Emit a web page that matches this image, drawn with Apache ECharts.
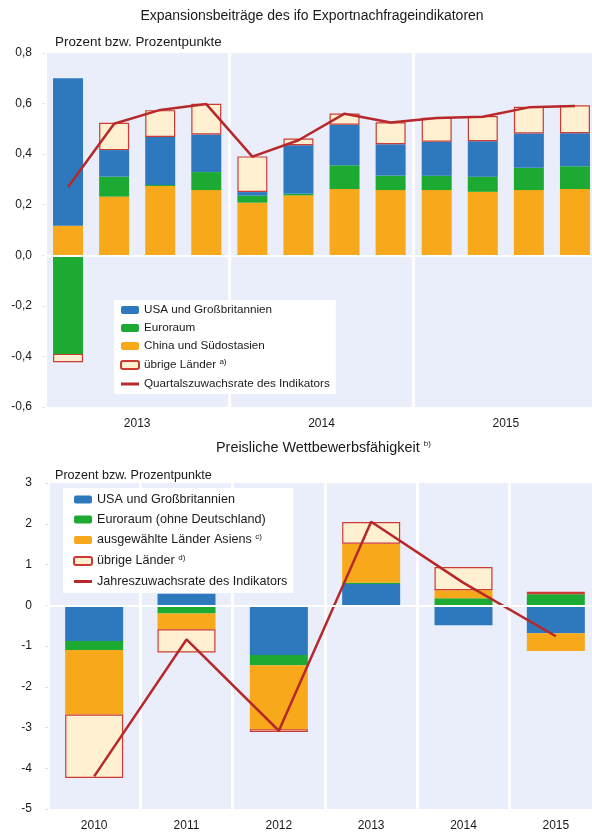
<!DOCTYPE html>
<html>
<head>
<meta charset="utf-8">
<script src="https://cdn.jsdelivr.net/npm/echarts@6/dist/echarts.min.js"></script>
<style>
  html, body { margin: 0; padding: 0; background: #fff; overflow: hidden; }
  #chart { width: 610px; height: 832px; }
</style>
</head>
<body>
<div id="chart"></div>
<script>
// --- oberes Diagramm: Quartale 2013-2015 ---
const quarters = ['2013 Q1', '2013 Q2', '2013 Q3', '2013 Q4', '2014 Q1', '2014 Q2', '2014 Q3', '2014 Q4', '2015 Q1', '2015 Q2', '2015 Q3', '2015 Q4'];
const yearsTop = ['2013', '2014', '2015'];
const chinaTop = [0.117, 0.232, 0.274, 0.258, 0.208, 0.237, 0.262, 0.258, 0.258, 0.251, 0.258, 0.262];
const euroTop = [-0.39, 0.079, 0.004, 0.071, 0.028, 0.006, 0.094, 0.057, 0.057, 0.06, 0.088, 0.09];
const usaTop = [0.583, 0.105, 0.19, 0.149, 0.014, 0.192, 0.16, 0.124, 0.134, 0.14, 0.136, 0.131];
const otherTop = [-0.033, 0.108, 0.106, 0.121, 0.141, 0.027, 0.045, 0.087, 0.095, 0.10, 0.105, 0.11];
const rateTop = [0.27, 0.52, 0.575, 0.598, 0.39, 0.455, 0.56, 0.525, 0.543, 0.548, 0.585, 0.59];

// --- unteres Diagramm: Jahre 2010-2015 ---
const yearsBottom = ['2010', '2011', '2012', '2013', '2014', '2015'];
const usaBottom = [-0.88, 0.28, -1.22, 0.52, -0.49, -0.69];
const euroBottom = [-0.22, -0.2, -0.25, 0.03, 0.17, 0.27];
const asiaBottom = [-1.58, -0.39, -1.57, 0.96, 0.20, -0.43];
const otherBottom = [-1.56, -0.57, -0.07, 0.53, 0.57, 0.06];
const rateBottom = [-4.2, -0.84, -3.08, 2.05, 0.55, -0.76];

const FONT = 'Liberation Sans, Arial, sans-serif';
const TXT = '#1a1a1a';
const BLUE = '#2E78BE', GREEN = '#1DAA33', ORANGE = '#F7A81B';
const CREAM = '#FEF0D0', RED_BORDER = '#CC3B33', LINE = '#B7282A';
const BG = '#E9EEFA';

const otherStyle = { color: CREAM, borderColor: RED_BORDER, borderWidth: 1.2 };
const linePath = 'path://M0 0H18V3H0Z';

// hochgestellte Fussnoten in der Legende
const supMap = {
  'übrige Länder a)': ['übrige Länder ', 'a)'],
  'ausgewählte Länder Asiens c)': ['ausgewählte Länder Asiens ', 'c)'],
  'übrige Länder d)': ['übrige Länder ', 'd)']
};
function legendFmt(name) {
  const s = supMap[name];
  return s ? '{t|' + s[0] + '}{s|' + s[1] + '}' : '{t|' + name + '}';
}
function legendRich(size) {
  return {
    t: { fontSize: size, fontFamily: FONT, color: TXT, lineHeight: 14 },
    s: { fontSize: 8, fontFamily: FONT, color: TXT, lineHeight: 14, padding: [0, 0, 6, 0] }
  };
}

const chart = echarts.init(document.getElementById('chart'), null, { renderer: 'canvas' });

chart.setOption({
  animation: false,
  textStyle: { fontFamily: FONT },
  graphic: [
    { type: 'text', x: 312, y: 16, style: { text: 'Expansionsbeiträge des ifo Exportnachfrageindikatoren', font: '14px ' + FONT, fill: TXT, align: 'center', verticalAlign: 'middle' } },
    { type: 'text', x: 55, y: 42, style: { text: 'Prozent bzw. Prozentpunkte', font: '13.4px ' + FONT, fill: TXT, align: 'left', verticalAlign: 'middle' } },
    { type: 'text', x: 216, y: 448, style: {
      text: '{t|Preisliche Wettbewerbsfähigkeit }{s|b)}',
      rich: {
        t: { fontSize: 14.4, fontFamily: FONT, fill: TXT, lineHeight: 16 },
        s: { fontSize: 8, fontFamily: FONT, fill: TXT, lineHeight: 16, padding: [0, 0, 8, 0] }
      },
      align: 'left', verticalAlign: 'middle' } },
    { type: 'text', x: 55, y: 476, style: { text: 'Prozent bzw. Prozentpunkte', font: '12.6px ' + FONT, fill: TXT, align: 'left', verticalAlign: 'middle' } }
  ],
  grid: [
    { left: 45, top: 53, width: 553, height: 354, show: true, backgroundColor: BG, borderWidth: 0 },
    { left: 48, top: 483, width: 554, height: 328, show: true, backgroundColor: BG, borderWidth: 0 }
  ],
  legend: [
    {
      orient: 'vertical', left: 114, top: 300, backgroundColor: '#fff',
      padding: [4, 6, 4, 6], itemGap: 6, itemWidth: 18, itemHeight: 8,
      data: [
        { name: 'USA und Großbritannien' },
        { name: 'Euroraum' },
        { name: 'China und Südostasien' },
        { name: 'übrige Länder a)' },
        { name: 'Quartalszuwachsrate des Indikators', icon: linePath }
      ],
      formatter: legendFmt,
      textStyle: { rich: legendRich(11.7) }
    },
    {
      orient: 'vertical', left: 63, top: 488, backgroundColor: '#fff',
      padding: [5, 6, 5, 10], itemGap: 7, itemWidth: 18, itemHeight: 8,
      data: [
        { name: 'USA und Großbritannien' },
        { name: 'Euroraum (ohne Deutschland)' },
        { name: 'ausgewählte Länder Asiens c)' },
        { name: 'übrige Länder d)' },
        { name: 'Jahreszuwachsrate des Indikators', icon: linePath }
      ],
      formatter: legendFmt,
      textStyle: { rich: legendRich(12.6) }
    }
  ],
  xAxis: [
    // Quartale, nur fuer die weisse Nulllinie
    { type: 'category', gridIndex: 0, data: quarters, z: 10,
      axisLine: { onZero: true, lineStyle: { color: '#fff', width: 2 } },
      axisTick: { show: false }, axisLabel: { show: false }, splitLine: { show: false } },
    // Jahre: Beschriftung und Trennlinien
    { type: 'category', gridIndex: 0, data: yearsTop, position: 'bottom',
      axisLine: { show: false, onZero: false }, axisTick: { show: false },
      axisLabel: { fontSize: 12, color: TXT, margin: 11 },
      splitLine: { show: true, lineStyle: { color: '#fff', width: 3 } } },
    { type: 'category', gridIndex: 1, data: yearsBottom, position: 'bottom',
      axisLine: { show: false, onZero: false }, axisTick: { show: false },
      axisLabel: { fontSize: 12, color: TXT, margin: 11 },
      splitLine: { show: true, lineStyle: { color: '#fff', width: 3 } } },
    { type: 'category', gridIndex: 1, data: yearsBottom, z: 10,
      axisLine: { onZero: true, lineStyle: { color: '#fff', width: 2 } },
      axisTick: { show: false }, axisLabel: { show: false }, splitLine: { show: false } }
  ],
  yAxis: [
    { type: 'value', gridIndex: 0, min: -0.6, max: 0.8, interval: 0.2,
      axisLine: { show: false }, axisTick: { show: true, length: 3, lineStyle: { color: '#dde2ee' } },
      splitLine: { show: false },
      axisLabel: { fontSize: 12, color: TXT, margin: 13, formatter: v => v.toFixed(1).replace('.', ',') } },
    { type: 'value', gridIndex: 1, min: -5, max: 3, interval: 1,
      axisLine: { show: false }, axisTick: { show: true, length: 3, lineStyle: { color: '#dde2ee' } },
      splitLine: { show: false },
      axisLabel: { fontSize: 12, color: TXT, margin: 16, formatter: v => String(Math.round(v)) } }
  ],
  series: [
    { name: 'China und Südostasien', type: 'bar', stack: 'top', xAxisIndex: 0, yAxisIndex: 0, barWidth: 30, itemStyle: { color: ORANGE }, data: chinaTop },
    { name: 'Euroraum', type: 'bar', stack: 'top', xAxisIndex: 0, yAxisIndex: 0, barWidth: 30, itemStyle: { color: GREEN }, data: euroTop },
    { name: 'USA und Großbritannien', type: 'bar', stack: 'top', xAxisIndex: 0, yAxisIndex: 0, barWidth: 30, itemStyle: { color: BLUE }, data: usaTop },
    { name: 'übrige Länder a)', type: 'bar', stack: 'top', xAxisIndex: 0, yAxisIndex: 0, barWidth: 30, itemStyle: otherStyle, data: otherTop },
    { name: 'Quartalszuwachsrate des Indikators', type: 'line', xAxisIndex: 0, yAxisIndex: 0, color: LINE, symbol: 'none', lineStyle: { color: LINE, width: 2.5 }, z: 5, data: rateTop },

    { name: 'USA und Großbritannien', type: 'bar', stack: 'bottom', xAxisIndex: 2, yAxisIndex: 1, barWidth: 58, itemStyle: { color: BLUE }, data: usaBottom },
    { name: 'Euroraum (ohne Deutschland)', type: 'bar', stack: 'bottom', xAxisIndex: 2, yAxisIndex: 1, barWidth: 58, itemStyle: { color: GREEN }, data: euroBottom },
    { name: 'ausgewählte Länder Asiens c)', type: 'bar', stack: 'bottom', xAxisIndex: 2, yAxisIndex: 1, barWidth: 58, itemStyle: { color: ORANGE }, data: asiaBottom },
    { name: 'übrige Länder d)', type: 'bar', stack: 'bottom', xAxisIndex: 2, yAxisIndex: 1, barWidth: 58, itemStyle: otherStyle, data: otherBottom },
    { name: 'Jahreszuwachsrate des Indikators', type: 'line', xAxisIndex: 2, yAxisIndex: 1, color: LINE, symbol: 'none', lineStyle: { color: LINE, width: 2.5 }, z: 5, data: rateBottom }
  ]
});
</script>
</body>
</html>
